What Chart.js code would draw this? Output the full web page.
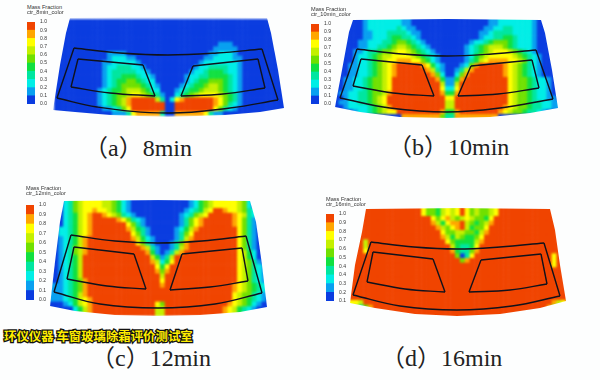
<!DOCTYPE html>
<html>
<head>
<meta charset="utf-8">
<script src="https://cdn.jsdelivr.net/npm/chart.js@4"></script>
<style>
    html, body { margin: 0; padding: 0; background: #fdfefe; }
    body { position: relative; width: 600px; height: 380px; overflow: hidden; }
    canvas { position: absolute; }
    .carte { filter: blur(1.2px); }
    .traits { filter: blur(0.35px); }
    .barre { filter: blur(0.3px); }
    .entete { position: absolute; font: 5.6px/5px "Liberation Sans", sans-serif; color: #333; white-space: nowrap; }
    .legende { position: absolute; font: 24px/26px "Liberation Serif", "Noto Sans CJK SC", serif; color: #222; white-space: pre; }
    #bandeau { position: absolute; left: 4px; top: 328px; font: bold 12.4px/16px "Noto Sans CJK SC", sans-serif; color: #ffee00;
        -webkit-text-stroke: 2.5px #111; paint-order: stroke fill; white-space: pre; }
</style>
</head>
<body>
<script>
const COULEURS = ['#0a3ce0', '#08a0f0', '#00eee6', '#00e6a0', '#10e040', '#70e000', '#c4f000', '#ffff00', '#ffa600', '#f04400'];
const BANDES = [1, 1, 1, 1, 1, 1, 1, 1, 1, 1];
const TICKS_0_1 = ['0.0', '0.1', '0.2', '0.3', '0.4', '0.5', '0.6', '0.7', '0.8', '0.9', '1.0'];
const TICKS_16 = ['0.1', '0.2', '0.3', '0.4', '0.4', '0.5', '0.6', '0.7', '0.8', '0.9', '1.0'];

const GRILLE_8 = [
    '0000000000 0000000000 0000000000 0000000000 00000000',
    '0000000000 0000000000 0000000000 0000000000 00000000',
    '0000000000 0000000000 0000000000 0000000000 00000000',
    '0000000000 0000000000 0000000000 0000000000 00000000',
    '0000000000 0000000000 0000000000 0000000000 00000000',
    '0000000000 0000000000 0000000000 0000111000 00000000',
    '0000000000 0000000000 0000000000 0001111100 00000000',
    '0000000000 0111100000 0000000000 0011222100 00000000',
    '0000000000 0122211000 0000000000 0112222110 00000000',
    '0000000000 1122222100 0000000000 1222222210 00000000',
    '0000000000 1223332210 0000000001 2233332210 00000000',
    '0000000000 1233333221 0000000012 2344432210 00000000',
    '0000000000 1233444322 1000000122 3344443210 00000000',
    '0000000000 1234455432 2000000123 4455543210 00000000',
    '0000000000 1234555543 2100001234 4566543210 00000000',
    '0000000001 2344566654 2200012344 5666543210 00000000',
    '0000000001 2345567765 4310023456 7777654310 00000000',
    '0000000001 2345689999 9630278999 9998754310 00000000',
    '0000000001 2345689999 9990099999 9998753210 00000000',
    '0000000000 1123579999 9990099999 9997532100 00000000',
    '0000000000 0011137888 8830088888 8731100000 00000000'
];

const GRILLE_10 = [
    '0000001222 2222110000 0000000000 0011222222 21000000',
    '0000001222 2222110000 0000000000 0011222222 21000000',
    '0000001222 2223211000 0000000000 0112233222 21000000',
    '0000001122 2333321100 0000000000 1123333222 21000000',
    '0000001122 2344332100 0000000000 1223344322 21000000',
    '0000011222 3345543210 0000000012 2345554322 21000000',
    '0000011223 3456654321 0000000123 4566654322 21000000',
    '0000112334 5567765432 1000000123 4567776543 21000000',
    '0000122345 6677776543 2100000124 5677777654 32100000',
    '0000122345 6778887754 2100000134 6788887765 32100000',
    '0001122345 6789999987 4210001258 9999987654 32100000',
    '0001122345 6789999998 6310013689 9999987654 32100000',
    '0001122345 6789999999 8520025899 9999987654 32100000',
    '0011223455 6799999999 9841148999 9999997655 43221000',
    '0011223455 6799999999 9961169999 9999997655 43221000',
    '0011223455 6799999999 9972279999 9999997655 43221000',
    '0112233455 6899999999 9984489999 9999997655 43221000',
    '0012233456 7999999999 9997799999 9999997655 43221100',
    '0112233456 7999999999 9996699999 9999997655 43322110',
    '0012222345 6899999999 9996699999 9999987655 43322110',
    '0000122345 6779999999 9984489999 9999876554 33210000',
    '0000000000 0000888888 8853388888 8888000000 00000000'
];

const GRILLE_12 = [
    '0 0023567777 6654210000 0000000012 4567777765 200000',
    '0 0023567777 6654210000 0000000012 4567777765 200000',
    '0 0023567787 7654210000 0000000123 4679987765 320000',
    '0 0023467899 8765321000 0000001235 6799999876 320000',
    '0 0023467899 9998753210 0000001357 8999999875 310000',
    '0 0023467899 9999975310 0000001357 8999999875 310000',
    '0 0223467899 9999986431 0000012468 9999999975 310000',
    '0 0223467899 9999997531 0000013579 9999999975 310000',
    '0 0123468999 9999998642 1000013689 9999999975 310000',
    '0 0123468999 9999999753 1000135899 9999999975 310000',
    '0 0123568999 9999999986 3100136899 9999999975 310000',
    '0 0123568999 9999999998 4101368999 9999999976 420000',
    '0 0123469999 9999999999 6413699999 9999999976 420000',
    '0 0123469999 9999999999 8624799999 9999999976 531000',
    '0 0123469999 9999999999 9747999999 9999999976 532100',
    '0 0123469999 9999999999 9858999999 9999999976 532100',
    '0 0123469999 9999999999 9969999999 9999999976 532100',
    '0 0123458999 9999999999 9979999999 9999999976 532100',
    '1 1123458999 9999999999 9989999999 9999999876 543210',
    '1 1123458999 9999999999 9999999999 9999999876 543210',
    '1 1123468999 9999999999 9999999999 9999999765 532110',
    '1 1123467899 9999999999 9999999999 9999999765 432100',
    '0 0012467899 9999999999 9759999999 9999998765 421000',
    '0 0000246899 9999999999 9669999999 9999987643 210000',
    '0 0000246899 9999999999 9669999999 9999987643 210000'
];

const GRILLE_16 = [
    '9 9999999999 9999755467 6797565567 9999999999 999999',
    '9 9999999999 9999755467 6797565567 9999999999 999999',
    '9 9999999999 9999997578 6567655479 9999999999 999999',
    '9 9999999999 9999998647 8896545689 9999999999 999999',
    '9 9999999999 9999999865 7896455799 9999999999 999999',
    '9 9999999999 9999999975 5665546899 9999999999 999999',
    '9 9999999999 9999999986 4654457999 9999999999 999999',
    '9 9969999999 9999999997 5444468999 9999999999 999999',
    '9 9969999999 9999999999 6433479999 9999999999 999999',
    '9 9979999999 9999999999 8433589999 9999999999 999999',
    '9 9999999999 9999999999 9503799999 9999999999 979999',
    '9 9999999999 9999999999 9958999999 9999999999 979999',
    '9 9999999999 9999999999 9999999999 9999999999 979999',
    '9 9999999999 9999999999 9999999999 9999999999 999999',
    '9 9999999999 9999999999 9999999999 9999999999 999999',
    '9 9999999999 9999999999 9999999999 9999999999 999999',
    '9 9999999999 9999999999 9999999999 9999999999 999999',
    '9 9999999999 9999999999 9999999999 9999999999 999999',
    '9 9999999999 9999999999 9999999999 9999999999 999999',
    '9 9999999999 9999999999 9999999999 9999999999 999999',
    '7 7699999999 9999999999 9999999999 9999999999 986799',
    '6 6358999999 9999999999 9999999999 9999999999 854999',
    '9 9999999999 9999999999 9999999999 9999999999 999999',
    '9 9999999999 9999999999 9999999999 9999999999 999999'
];

// traits noirs des zones de vision : arcs lissés, côtés droits
const EXT_HAUT_8 = [[74, 48], [120, 53], [168, 55], [217, 53], [262, 49]];
const EXT_BAS_8 = [[57, 98], [97, 107], [168, 113], [230, 108], [278, 100]];
const INT_G_HAUT_8 = [[78, 59], [143, 65]];
const INT_G_BAS_8 = [[71, 87], [110, 93], [155, 96]];
const INT_D_HAUT_8 = [[193, 66], [258, 59]];
const INT_D_BAS_8 = [[181, 96], [223, 94], [265, 88]];

const EXT_HAUT_10 = [[357, 49], [402, 54], [447, 56], [492, 54], [536, 50]];
const EXT_BAS_10 = [[340, 98], [390, 108], [447, 112], [500, 108], [553, 99]];
const INT_G_HAUT_10 = [[361, 59], [422, 65]];
const INT_G_BAS_10 = [[353, 86], [393, 93], [434, 96]];
const INT_D_HAUT_10 = [[471, 66], [532, 60]];
const INT_D_BAS_10 = [[458, 96], [498, 94], [539, 88]];

const EXT_HAUT_12 = [[71, 235], [115, 241], [158, 243], [202, 241], [246, 236]];
const EXT_BAS_12 = [[54, 292], [100, 304], [158, 308], [215, 304], [262, 293]];
const INT_G_HAUT_12 = [[74, 247], [134, 254]];
const INT_G_BAS_12 = [[67, 279], [107, 286], [146, 289]];
const INT_D_HAUT_12 = [[182, 254], [242, 248]];
const INT_D_BAS_12 = [[170, 290], [210, 287], [248, 281]];

const EXT_HAUT_16 = [[371, 242], [414, 247], [457, 249], [500, 247], [544, 243]];
const EXT_BAS_16 = [[353, 295], [400, 306], [457, 310], [512, 306], [560, 296]];
const INT_G_HAUT_16 = [[373, 252], [433, 259]];
const INT_G_BAS_16 = [[367, 282], [405, 289], [445, 292]];
const INT_D_HAUT_16 = [[481, 260], [541, 254]];
const INT_D_BAS_16 = [[469, 292], [510, 290], [547, 284]];

// contours du pare-brise
const BORD_8 = [[70, 18], [120, 17], [168, 17], [220, 17], [267, 18], [271, 33], [278, 70], [284, 108], [260, 112], [225, 115], [168, 117], [110, 115], [75, 112], [53, 110], [60, 65], [66, 33]];
const BORD_10 = [[353, 20], [447, 19], [541, 20], [545, 33], [552, 70], [558, 108], [530, 113], [490, 117], [447, 118], [400, 117], [360, 112], [335, 107], [342, 70], [349, 32]];
const BORD_12 = [[64, 201], [158, 200], [250, 201], [256, 222], [262, 265], [267, 307], [240, 312], [200, 315], [158, 316], [115, 315], [75, 311], [50, 306], [55, 262], [60, 222]];
const BORD_16 = [[366, 209], [457, 208], [550, 209], [555, 230], [560, 265], [566, 301], [540, 308], [500, 314], [457, 316], [415, 314], [375, 308], [350, 303], [355, 265], [362, 232]];

const PAS = 5;

function versPoints(liste) {
    return liste.map(p => ({x: p[0], y: p[1]}));
}

function ajouterCanvas(classe, gauche, haut, largeur, hauteur) {
    const canvas = document.createElement('canvas');
    canvas.className = classe;
    canvas.width = largeur;
    canvas.height = hauteur;
    canvas.style.left = gauche + 'px';
    canvas.style.top = haut + 'px';
    canvas.style.width = largeur + 'px';
    canvas.style.height = hauteur + 'px';
    document.body.appendChild(canvas);
    return canvas;
}

function optionsCarte(panneau, largeur, hauteur) {
    return {
        responsive: false,
        animation: false,
        layout: {padding: 0},
        plugins: {legend: {display: false}, tooltip: {enabled: false}},
        scales: {
            x: {type: 'linear', display: false, min: panneau.gauche, max: panneau.gauche + largeur},
            y: {type: 'linear', display: false, reverse: true, min: panneau.haut, max: panneau.haut + hauteur}
        }
    };
}

/**
 * Relie les arcs d'un cadre : chaque arc est lissé, les côtés restent droits
 */
function traitsDuCadre(haut, bas) {
    const premier = haut[0];
    const dernier = haut[haut.length - 1];
    return [haut, bas, [premier, bas[0]], [dernier, bas[bas.length - 1]]];
}

/**
 * Dessine une carte de fraction massique, cellule par cellule, puis les traits par-dessus
 */
function afficherCarte(panneau) {
    const rangees = panneau.grille.map(r => r.replace(/ /g, ''));
    const largeur = rangees[0].length * PAS;
    const hauteur = rangees.length * PAS;
    const canvas = ajouterCanvas('carte', panneau.gauche, panneau.haut, largeur, hauteur);
    canvas.style.clipPath = 'polygon(' + panneau.bord.map(p => (p[0] - panneau.gauche) + 'px ' + (p[1] - panneau.haut) + 'px').join(',') + ')';

    const cellules = [];
    const couleurs = [];
    rangees.forEach((rangee, r) => {
        for (let c = 0; c < rangee.length; c++) {
            cellules.push({x: panneau.gauche + (c + 0.5) * PAS, y: panneau.haut + (r + 0.5) * PAS});
            couleurs.push(COULEURS[Number(rangee[c])]);
        }
    });

    new Chart(canvas.getContext('2d'), {
        type: 'scatter',
        data: {
            datasets: [{
                data: cellules,
                pointStyle: 'rect',
                pointRadius: PAS * 0.75,
                pointBorderWidth: 0,
                pointBackgroundColor: couleurs,
                showLine: false
            }]
        },
        options: optionsCarte(panneau, largeur, hauteur)
    });

    const canvasTraits = ajouterCanvas('traits', panneau.gauche, panneau.haut, largeur, hauteur);
    new Chart(canvasTraits.getContext('2d'), {
        type: 'scatter',
        data: {
            datasets: panneau.traits.map(trait => ({
                data: versPoints(trait),
                showLine: true,
                borderColor: '#10121c',
                borderWidth: 1.4,
                tension: 0.4,
                pointRadius: 0,
                fill: false
            }))
        },
        options: optionsCarte(panneau, largeur, hauteur)
    });
}

/**
 * Dessine la barre de couleurs et ses graduations
 */
function afficherBarre(panneau) {
    const marge = 4;
    const canvas = ajouterCanvas('barre', panneau.barreX, panneau.barreHaut - marge, 8 + 22, panneau.barreH + 2 * marge);
    new Chart(canvas.getContext('2d'), {
        type: 'bar',
        data: {
            labels: [''],
            datasets: COULEURS.map((couleur, i) => ({
                data: [BANDES[i]],
                backgroundColor: couleur,
                barPercentage: 1,
                categoryPercentage: 1
            }))
        },
        options: {
            responsive: false,
            animation: false,
            layout: {padding: {top: marge, bottom: marge}},
            plugins: {legend: {display: false}, tooltip: {enabled: false}},
            scales: {
                x: {stacked: true, display: false},
                y: {
                    stacked: true,
                    position: 'right',
                    min: 0,
                    max: 10,
                    afterFit: scale => { scale.width = 22; },
                    grid: {display: false, drawTicks: false},
                    border: {display: false},
                    ticks: {
                        stepSize: 1,
                        autoSkip: false,
                        padding: 5,
                        color: '#333',
                        font: {size: 5, family: 'Liberation Sans'},
                        callback: valeur => panneau.ticks[valeur]
                    }
                }
            }
        }
    });

    panneau.entetes.forEach((texte, i) => {
        const div = document.createElement('div');
        div.className = 'entete';
        div.textContent = texte;
        div.style.left = panneau.barreX + 'px';
        div.style.top = (panneau.enteteHaut + i * 5) + 'px';
        document.body.appendChild(div);
    });

    const legende = document.createElement('div');
    legende.className = 'legende';
    legende.textContent = panneau.legende;
    legende.style.left = panneau.legendeX + 'px';
    legende.style.top = panneau.legendeY + 'px';
    document.body.appendChild(legende);
}

const panneaux = [
    {grille: GRILLE_8, gauche: 50, haut: 15, bord: BORD_8,
        traits: [...traitsDuCadre(EXT_HAUT_8, EXT_BAS_8), ...traitsDuCadre(INT_G_HAUT_8, INT_G_BAS_8), ...traitsDuCadre(INT_D_HAUT_8, INT_D_BAS_8)],
        barreX: 27, barreHaut: 18, barreH: 90, ticks: TICKS_0_1, entetes: ['Mass Fraction', 'ctr_8min_color'], enteteHaut: 5,
        legende: '（a）8min', legendeX: 84, legendeY: 135},
    {grille: GRILLE_10, gauche: 330, haut: 13, bord: BORD_10,
        traits: [...traitsDuCadre(EXT_HAUT_10, EXT_BAS_10), ...traitsDuCadre(INT_G_HAUT_10, INT_G_BAS_10), ...traitsDuCadre(INT_D_HAUT_10, INT_D_BAS_10)],
        barreX: 311, barreHaut: 20, barreH: 88, ticks: TICKS_0_1, entetes: ['Mass Fraction', 'ctr_10min_color'], enteteHaut: 7,
        legende: '（b）10min', legendeX: 388, legendeY: 134},
    {grille: GRILLE_12, gauche: 45, haut: 195, bord: BORD_12,
        traits: [...traitsDuCadre(EXT_HAUT_12, EXT_BAS_12), ...traitsDuCadre(INT_G_HAUT_12, INT_G_BAS_12), ...traitsDuCadre(INT_D_HAUT_12, INT_D_BAS_12)],
        barreX: 26, barreHaut: 201, barreH: 103, ticks: TICKS_0_1, entetes: ['Mass Fraction', 'ctr_12min_color'], enteteHaut: 186,
        legende: '（c）12min', legendeX: 91, legendeY: 345},
    {grille: GRILLE_16, gauche: 345, haut: 203, bord: BORD_16,
        traits: [...traitsDuCadre(EXT_HAUT_16, EXT_BAS_16), ...traitsDuCadre(INT_G_HAUT_16, INT_G_BAS_16), ...traitsDuCadre(INT_D_HAUT_16, INT_D_BAS_16)],
        barreX: 326, barreHaut: 210, barreH: 95, ticks: TICKS_16, entetes: ['Mass Fraction', 'ctr_16min_color'], enteteHaut: 197,
        legende: '（d）16min', legendeX: 381, legendeY: 345}
];

panneaux.forEach(panneau => {
    afficherCarte(panneau);
    afficherBarre(panneau);
});

const bandeau = document.createElement('div');
bandeau.id = 'bandeau';
bandeau.textContent = '环仪仪器 车窗玻璃除霜评价测试室';
document.body.appendChild(bandeau);
</script>
</body>
</html>
